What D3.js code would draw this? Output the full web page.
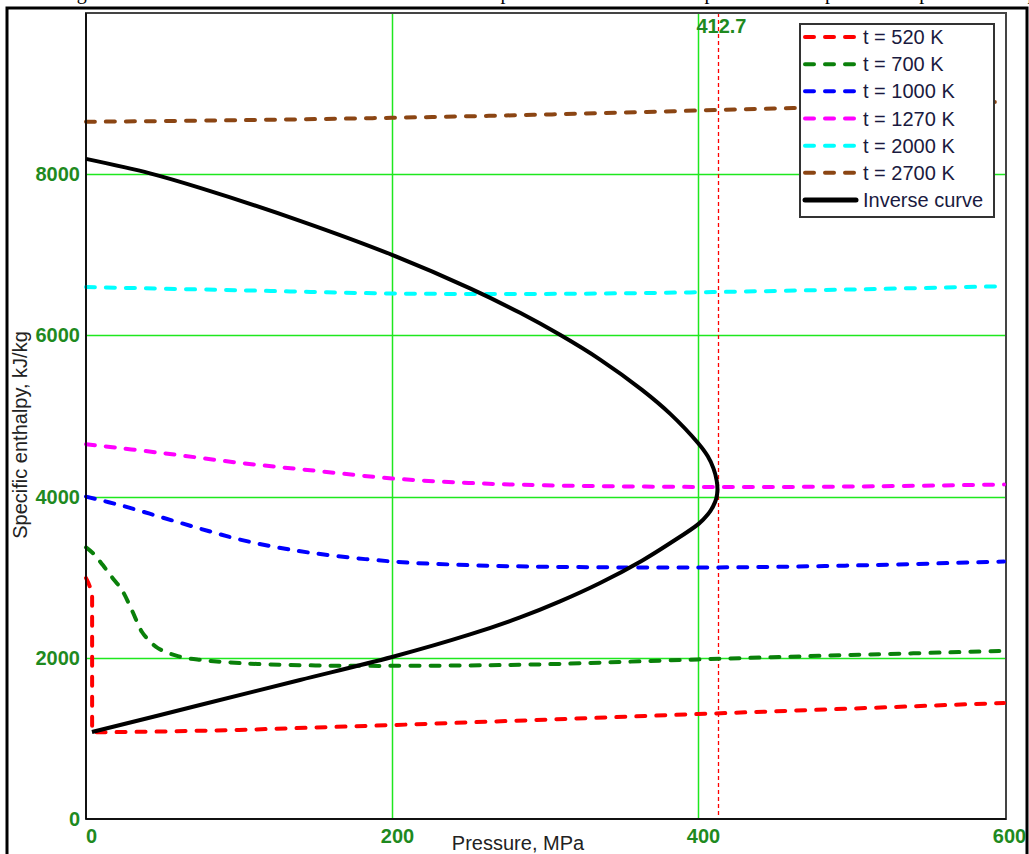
<!DOCTYPE html>
<html>
<head>
<meta charset="utf-8">
<script src="https://cdn.jsdelivr.net/npm/d3@7"></script>
<style>
  html, body { margin: 0; padding: 0; background: #fff; }
  svg { display: block; }
</style>
</head>
<body>
<svg id="chart" width="1029" height="854"></svg>
<script>
// ---------------- data ----------------
const xTicks = [0, 200, 400, 600];
const yTicks = [0, 2000, 4000, 6000, 8000];
const xGrid = [200, 400];
const yGrid = [2000, 4000, 6000, 8000];

const seriesNames = ["t = 520 K", "t = 700 K", "t = 1000 K", "t = 1270 K", "t = 2000 K", "t = 2700 K"];
const seriesColors = ["#ff0000", "#0a800a", "#0000ff", "#ff00ff", "#00ffff", "#8b4513"];

const p520 = [0, 1.5, 3, 4, 4, 20, 50, 100, 200, 300, 400, 500, 600];
const h520 = [2990, 2930, 2860, 2800, 1075, 1078, 1085, 1105, 1165, 1232, 1302, 1370, 1440];

const p700 = [0, 5, 11, 17, 23.5, 30, 36.6, 42, 47, 60, 75, 90, 112, 150, 180, 250, 300, 400, 500, 600];
const h700 = [3370, 3290, 3150, 3000, 2840, 2590, 2320, 2200, 2120, 2020, 1973, 1948, 1923, 1905, 1900, 1905, 1920, 1980, 2035, 2085];

const p1000 = [0, 25, 50, 75, 100, 125, 150, 200, 250, 300, 400, 500, 600];
const h1000 = [4000, 3880, 3740, 3600, 3470, 3370, 3295, 3195, 3150, 3130, 3120, 3145, 3195];

const p1270 = [0, 50, 100, 150, 200, 250, 300, 400, 500, 600];
const h1270 = [4650, 4540, 4420, 4320, 4225, 4170, 4140, 4120, 4125, 4150];

const p2000 = [0, 100, 200, 300, 400, 500, 600];
const h2000 = [6600, 6560, 6520, 6515, 6535, 6570, 6610];

const p2700 = [0, 100, 200, 300, 400, 500, 600];
const h2700 = [8650, 8670, 8700, 8740, 8790, 8840, 8900];

const pInverse = [0, 41.8, 74.5, 139.9, 200, 251, 283.7, 309.8, 336, 363.4, 381.7, 400, 406.4, 410.1, 412.2, 412.7,
                  412.0, 409.9, 406.5, 400.6, 381.7, 363.4, 336, 309.8, 283.7, 251, 200, 139.9, 74.5, 3.9];
const hInverse = [8190, 8011, 7831, 7422, 7000, 6584, 6280, 6007, 5700, 5325, 5030, 4665, 4500, 4350, 4200, 4080,
                  3980, 3880, 3780, 3665, 3421, 3205, 2928, 2700, 2501, 2290, 2010, 1725, 1414, 1079];

const markerP = 412.7;
const markerLabel = "412.7";
const xTitle = "Pressure, MPa";
const yTitle = "Specific enthalpy, kJ/kg";
const inverseName = "Inverse curve";
const captionText = "Fig. 5. The isotherms and the inverse curve of reduced pressure and reduced temperature in the pressure – specific enthalpy range";

// ---------------- drawing ----------------
const svg = d3.select("#chart");
const L = 86, R = 1006, T = 13, B = 819;
const x = d3.scaleLinear().domain([0, 600]).range([86, 1004]);
const y = d3.scaleLinear().domain([0, 10000]).range([B, T]);

// cut-off caption line at top (only its lowest pixels fall inside the picture)
svg.append("text")
  .attr("x", 60).attr("y", -1)
  .attr("font-family", "Liberation Serif, Times New Roman, serif")
  .attr("font-size", 20)
  .attr("fill", "#000")
  .text(captionText);

// outer frame
svg.append("rect")
  .attr("x", 7).attr("y", 8).attr("width", 1020).attr("height", 900)
  .attr("fill", "none").attr("stroke", "#000").attr("stroke-width", 3);

// grid
const gridColor = "#1ee81e";
svg.append("g").selectAll("line").data(yGrid).join("line")
  .attr("x1", L).attr("x2", R)
  .attr("y1", d => Math.round(y(d)) + 0.5).attr("y2", d => Math.round(y(d)) + 0.5)
  .attr("stroke", gridColor).attr("stroke-width", 1.5);
svg.append("g").selectAll("line").data(xGrid).join("line")
  .attr("y1", T).attr("y2", B)
  .attr("x1", d => Math.round(x(d)) + 0.5).attr("x2", d => Math.round(x(d)) + 0.5)
  .attr("stroke", gridColor).attr("stroke-width", 1.5);

// marker line
svg.append("line")
  .attr("x1", Math.round(x(markerP)) + 1.5).attr("x2", Math.round(x(markerP)) + 1.5)
  .attr("y1", T).attr("y2", B)
  .attr("stroke", "#ff0000").attr("stroke-width", 1.3)
  .attr("stroke-dasharray", "4,3");

// plot frame
svg.append("rect")
  .attr("x", L).attr("y", T).attr("width", R - L).attr("height", B - T)
  .attr("fill", "none").attr("stroke", "#444").attr("stroke-width", 2);

// curves
const lineSmooth = d3.line().x(d => x(d[0])).y(d => y(d[1])).curve(d3.curveCatmullRom.alpha(0.5));
const lineStraight = d3.line().x(d => x(d[0])).y(d => y(d[1]));
const zip = (a, b) => a.map((v, i) => [v, b[i]]);

const series = [
  { p: p520, h: h520, gen: lineStraight },
  { p: p700, h: h700, gen: lineSmooth },
  { p: p1000, h: h1000, gen: lineSmooth },
  { p: p1270, h: h1270, gen: lineSmooth },
  { p: p2000, h: h2000, gen: lineSmooth },
  { p: p2700, h: h2700, gen: lineSmooth }
];
const plot = svg.append("g");
series.forEach((s, i) => {
  plot.append("path")
    .attr("d", s.gen(zip(s.p, s.h)))
    .attr("fill", "none")
    .attr("stroke", seriesColors[i])
    .attr("stroke-width", 4)
    .attr("stroke-linecap", "round")
    .attr("stroke-dasharray", "9,11");
});
plot.append("path")
  .attr("d", lineSmooth(zip(pInverse, hInverse)))
  .attr("fill", "none").attr("stroke", "#000").attr("stroke-width", 4)
  .attr("stroke-linejoin", "round");

// axes
const tickColor = "#1f8a1f";
const yAxis = svg.append("g").attr("transform", `translate(${L - 6},0)`)
  .call(d3.axisLeft(y).tickValues(yTicks).tickSize(0).tickPadding(0).tickFormat(d3.format("d")));
const xAxis = svg.append("g").attr("transform", `translate(5,${B + 10})`)
  .call(d3.axisBottom(x).tickValues(xTicks).tickSize(0).tickPadding(0).tickFormat(d3.format("d")));
[xAxis, yAxis].forEach(g => {
  g.select(".domain").remove();
  g.selectAll("text")
    .attr("font-family", "Liberation Sans, Arial, sans-serif")
    .attr("font-size", 20).attr("font-weight", "bold")
    .attr("fill", tickColor);
});

// axis lines
svg.append("line").attr("x1", L).attr("x2", L).attr("y1", T).attr("y2", B)
  .attr("stroke", "#000").attr("stroke-width", 1.5);
svg.append("line").attr("x1", L).attr("x2", R).attr("y1", B).attr("y2", B)
  .attr("stroke", "#000").attr("stroke-width", 1.5);

// marker label
svg.append("text")
  .attr("x", x(markerP) - 21).attr("y", 33)
  .attr("font-family", "Liberation Sans, Arial, sans-serif")
  .attr("font-size", 20).attr("font-weight", "bold")
  .attr("fill", tickColor)
  .text(markerLabel);

// axis titles
svg.append("text")
  .attr("x", 518).attr("y", 850)
  .attr("text-anchor", "middle")
  .attr("font-family", "Liberation Sans, Arial, sans-serif")
  .attr("font-size", 20).attr("fill", "#222")
  .text(xTitle);
svg.append("text")
  .attr("transform", "translate(27,435) rotate(-90)")
  .attr("text-anchor", "middle")
  .attr("font-family", "Liberation Sans, Arial, sans-serif")
  .attr("font-size", 20).attr("fill", "#222")
  .text(yTitle);

// legend
const lg = svg.append("g");
lg.append("rect")
  .attr("x", 800).attr("y", 24).attr("width", 194).attr("height", 193)
  .attr("fill", "#fff").attr("stroke", "#333").attr("stroke-width", 2);
const legendItems = seriesNames.map((n, i) => ({ name: n, color: seriesColors[i], dashed: true }))
  .concat([{ name: inverseName, color: "#000", dashed: false }]);
const rowY = d3.scaleLinear().domain([0, 6]).range([37, 200]);
legendItems.forEach((d, i) => {
  const yy = rowY(i);
  lg.append("line")
    .attr("x1", 805).attr("x2", 856).attr("y1", yy).attr("y2", yy)
    .attr("stroke", d.color)
    .attr("stroke-width", d.dashed ? 4 : 5)
    .attr("stroke-linecap", "round")
    .attr("stroke-dasharray", d.dashed ? "9,11" : null);
  lg.append("text")
    .attr("x", 863).attr("y", yy + 7)
    .attr("font-family", "Liberation Sans, Arial, sans-serif")
    .attr("font-size", 20).attr("fill", "#1a1a40")
    .text(d.name);
});
</script>
</body>
</html>
